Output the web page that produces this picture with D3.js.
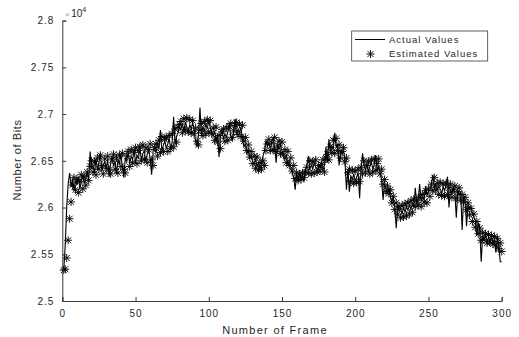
<!DOCTYPE html>
<html>
<head>
<meta charset="utf-8">
<script src="https://cdn.jsdelivr.net/npm/d3@7"></script>
<style>
  html, body { margin: 0; padding: 0; background: #fff; }
  svg text { font-family: "Liberation Sans", Arial, sans-serif; fill: #262626; }
</style>
</head>
<body>
<svg id="chart" width="519" height="337"></svg>
<script>
// values are in units of 10^4 bits
const actualValues = [
  2.533, 2.560, 2.600, 2.625, 2.637, 2.622, 2.631, 2.618, 2.629, 2.624,
  2.633, 2.620, 2.628, 2.635, 2.626, 2.631, 2.638, 2.629, 2.660, 2.641,
  2.646, 2.637, 2.652, 2.640, 2.648, 2.658, 2.639, 2.645, 2.650, 2.642,
  2.651, 2.633, 2.647, 2.655, 2.644, 2.650, 2.636, 2.652, 2.646, 2.657,
  2.644, 2.632, 2.653, 2.649, 2.660, 2.647, 2.655, 2.651, 2.662, 2.648,
  2.656, 2.652, 2.664, 2.650, 2.658, 2.661, 2.649, 2.657, 2.663, 2.652,
  2.635, 2.660, 2.666, 2.658, 2.669, 2.662, 2.683, 2.660, 2.667, 2.671,
  2.663, 2.668, 2.674, 2.662, 2.670, 2.697, 2.668, 2.676, 2.680, 2.685,
  2.684, 2.690, 2.681, 2.692, 2.686, 2.679, 2.689, 2.684, 2.691, 2.683,
  2.671, 2.665, 2.678, 2.707, 2.676, 2.687, 2.681, 2.690, 2.684, 2.693,
  2.686, 2.680, 2.676, 2.682, 2.671, 2.679, 2.654, 2.677, 2.684, 2.673,
  2.679, 2.675, 2.681, 2.690, 2.676, 2.672, 2.680, 2.695, 2.678, 2.684,
  2.680, 2.686, 2.672, 2.665, 2.668, 2.658, 2.661, 2.652, 2.657, 2.649,
  2.646, 2.652, 2.643, 2.649, 2.641, 2.647, 2.655, 2.660, 2.672, 2.666,
  2.669, 2.663, 2.670, 2.675, 2.664, 2.648, 2.668, 2.662, 2.667, 2.660,
  2.656, 2.651, 2.657, 2.646, 2.650, 2.643, 2.637, 2.632, 2.619, 2.636,
  2.630, 2.637, 2.631, 2.634, 2.628, 2.641, 2.645, 2.655, 2.640, 2.646,
  2.641, 2.648, 2.643, 2.639, 2.646, 2.642, 2.647, 2.640, 2.645, 2.665,
  2.648, 2.673, 2.660, 2.666, 2.662, 2.680, 2.664, 2.668, 2.645, 2.661,
  2.657, 2.662, 2.650, 2.619, 2.640, 2.617, 2.634, 2.630, 2.636, 2.628,
  2.633, 2.637, 2.610, 2.641, 2.658, 2.645, 2.640, 2.647, 2.638, 2.644,
  2.649, 2.641, 2.646, 2.656, 2.639, 2.644, 2.637, 2.630, 2.608, 2.625,
  2.620, 2.616, 2.621, 2.611, 2.606, 2.612, 2.600, 2.578, 2.603, 2.596,
  2.599, 2.593, 2.600, 2.595, 2.601, 2.597, 2.603, 2.598, 2.604, 2.600,
  2.621, 2.604, 2.609, 2.625, 2.607, 2.612, 2.608, 2.623, 2.613, 2.617,
  2.619, 2.624, 2.635, 2.621, 2.626, 2.618, 2.623, 2.620, 2.615, 2.622,
  2.618, 2.624, 2.633, 2.600, 2.619, 2.614, 2.621, 2.616, 2.589, 2.618,
  2.613, 2.617, 2.576, 2.612, 2.608, 2.580, 2.604, 2.599, 2.601, 2.594,
  2.590, 2.586, 2.570, 2.584, 2.578, 2.542, 2.570, 2.566, 2.571, 2.563,
  2.568, 2.564, 2.570, 2.562, 2.566, 2.552, 2.568, 2.560, 2.542, 2.542
];

const estimatedValues = [
  2.533, 2.534, 2.546, 2.565, 2.588, 2.606, 2.624, 2.632, 2.619, 2.630,
  2.616, 2.628, 2.635, 2.620, 2.633, 2.624, 2.638, 2.629, 2.644, 2.650,
  2.638, 2.649, 2.635, 2.653, 2.641, 2.656, 2.645, 2.636, 2.652, 2.642,
  2.655, 2.640, 2.636, 2.651, 2.657, 2.641, 2.653, 2.637, 2.656, 2.644,
  2.658, 2.641, 2.637, 2.655, 2.660, 2.644, 2.662, 2.648, 2.659, 2.664,
  2.647, 2.661, 2.665, 2.650, 2.667, 2.652, 2.664, 2.648, 2.662, 2.668,
  2.651, 2.645, 2.664, 2.668, 2.655, 2.672, 2.659, 2.676, 2.660, 2.673,
  2.675, 2.660, 2.677, 2.663, 2.679, 2.665, 2.684, 2.670, 2.686, 2.689,
  2.692, 2.680, 2.695, 2.683, 2.696, 2.681, 2.694, 2.680, 2.693, 2.679,
  2.685, 2.671, 2.667, 2.683, 2.690, 2.677, 2.692, 2.679, 2.694, 2.681,
  2.693, 2.679, 2.685, 2.672, 2.686, 2.670, 2.677, 2.663, 2.681, 2.684,
  2.671, 2.685, 2.672, 2.687, 2.690, 2.675, 2.682, 2.688, 2.691, 2.678,
  2.689, 2.676, 2.688, 2.671, 2.675, 2.661, 2.667, 2.654, 2.660, 2.647,
  2.655, 2.642, 2.654, 2.640, 2.648, 2.641, 2.650, 2.645, 2.661, 2.668,
  2.673, 2.661, 2.669, 2.662, 2.675, 2.660, 2.666, 2.671, 2.658, 2.670,
  2.656, 2.662, 2.648, 2.660, 2.645, 2.653, 2.639, 2.645, 2.631, 2.637,
  2.629, 2.636, 2.630, 2.637, 2.632, 2.638, 2.643, 2.637, 2.650, 2.636,
  2.649, 2.637, 2.651, 2.638, 2.645, 2.639, 2.646, 2.651, 2.638, 2.653,
  2.657, 2.651, 2.665, 2.659, 2.672, 2.658, 2.674, 2.661, 2.667, 2.653,
  2.660, 2.664, 2.649, 2.653, 2.637, 2.641, 2.628, 2.640, 2.626, 2.639,
  2.627, 2.641, 2.628, 2.643, 2.636, 2.650, 2.638, 2.645, 2.649, 2.636,
  2.651, 2.638, 2.652, 2.640, 2.647, 2.652, 2.636, 2.641, 2.625, 2.630,
  2.617, 2.623, 2.615, 2.619, 2.605, 2.612, 2.598, 2.605, 2.593, 2.601,
  2.589, 2.602, 2.590, 2.604, 2.591, 2.605, 2.593, 2.607, 2.595, 2.609,
  2.601, 2.608, 2.603, 2.611, 2.601, 2.614, 2.606, 2.618, 2.605, 2.620,
  2.612, 2.625, 2.618, 2.632, 2.619, 2.626, 2.614, 2.627, 2.613, 2.625,
  2.612, 2.626, 2.614, 2.621, 2.625, 2.611, 2.619, 2.623, 2.610, 2.617,
  2.621, 2.608, 2.614, 2.606, 2.611, 2.598, 2.605, 2.592, 2.599, 2.585,
  2.593, 2.579, 2.585, 2.572, 2.578, 2.565, 2.573, 2.566, 2.572, 2.562,
  2.571, 2.563, 2.570, 2.561, 2.569, 2.560, 2.567, 2.556, 2.562, 2.553
];

const xTicks = [0, 50, 100, 150, 200, 250, 300];
const yTicks = [2.5, 2.55, 2.6, 2.65, 2.7, 2.75, 2.8];
const seriesNames = ['Actual Values', 'Estimated Values'];

const svg = d3.select('#chart');
const axisColor = '#3a3a3a';

const x = d3.scaleLinear().domain([0, 300]).range([62.3, 501.7]);
const y = d3.scaleLinear().domain([2.5, 2.8]).range([301, 20.6]);

const frames = actualValues.map((d, i) => i + 1);

// actual line
const line = d3.line()
  .x((d, i) => x(frames[i]))
  .y(d => y(d));

svg.append('path')
  .datum(actualValues)
  .attr('fill', 'none')
  .attr('stroke', '#000')
  .attr('stroke-width', 1.1)
  .attr('stroke-linejoin', 'miter')
  .attr('d', line);

// matlab style '*' marker
const star = 'M-4,0H4M0,-4V4M-3,-3L3,3M-3,3L3,-3';

svg.append('g')
  .selectAll('path')
  .data(estimatedValues)
  .join('path')
  .attr('transform', (d, i) => `translate(${x(frames[i])},${y(d)})`)
  .attr('d', star)
  .attr('fill', 'none')
  .attr('stroke', '#000')
  .attr('stroke-width', 0.9);

// axes
const xAxis = svg.append('g')
  .attr('transform', `translate(0,${y(2.5)})`)
  .call(d3.axisBottom(x).tickValues(xTicks).tickSize(-4).tickPadding(9).tickFormat(d3.format('d')));

const yAxis = svg.append('g')
  .attr('transform', `translate(${x(0)},0)`)
  .call(d3.axisLeft(y).tickValues(yTicks).tickSize(-4).tickPadding(8).tickFormat(d => d3.format('')(+d.toFixed(2))));

[xAxis, yAxis].forEach(g => {
  g.select('.domain').attr('stroke', axisColor).attr('stroke-width', 1);
  g.selectAll('.tick line').attr('stroke', axisColor);
  g.selectAll('.tick text')
    .style('font-family', '"Liberation Sans", Arial, sans-serif')
    .style('font-size', '10px')
    .style('letter-spacing', '1px')
    .attr('fill', '#262626');
});

// exponent
const expo = svg.append('text')
  .attr('x', 65)
  .attr('y', 17)
  .style('font-size', '10px');
expo.append('tspan').text('×').attr('fill', '#999').style('font-size', '8px');
expo.append('tspan').text('10').attr('dx', 1.5);
expo.append('tspan').text('4').attr('dy', -5).style('font-size', '7px');

// axis titles
svg.append('text')
  .attr('x', 275)
  .attr('y', 334)
  .attr('text-anchor', 'middle')
  .style('font-size', '11px')
  .style('letter-spacing', '1.3px')
  .text('Number of Frame');

svg.append('text')
  .attr('transform', 'translate(21,160) rotate(-90)')
  .attr('text-anchor', 'middle')
  .style('font-size', '11px')
  .style('letter-spacing', '0.6px')
  .text('Number of Bits');

// legend
const legend = svg.append('g');
legend.append('rect')
  .attr('x', 351.7).attr('y', 31)
  .attr('width', 136).attr('height', 30)
  .attr('fill', '#fff')
  .attr('stroke', axisColor)
  .attr('stroke-width', 0.8);

legend.append('line')
  .attr('x1', 355).attr('x2', 385)
  .attr('y1', 39.5).attr('y2', 39.5)
  .attr('stroke', '#000').attr('stroke-width', 1);

legend.append('path')
  .attr('transform', 'translate(370.5,54)')
  .attr('d', star)
  .attr('fill', 'none')
  .attr('stroke', '#000')
  .attr('stroke-width', 0.9);

legend.selectAll('text.lbl')
  .data(seriesNames)
  .join('text')
  .attr('class', 'lbl')
  .attr('x', 389)
  .attr('y', (d, i) => 43 + i * 14.3)
  .style('font-size', '9.5px')
  .style('letter-spacing', '1px')
  .text(d => d);
</script>
</body>
</html>
